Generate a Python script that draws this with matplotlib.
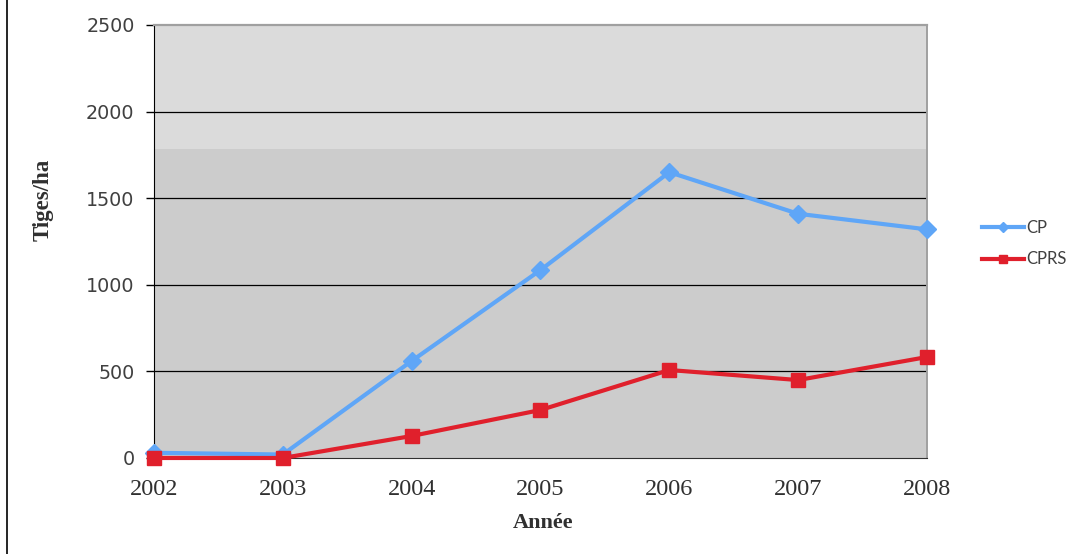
import matplotlib
matplotlib.use("Agg")
import matplotlib.pyplot as plt
from matplotlib.lines import Line2D

years = [2002, 2003, 2004, 2005, 2006, 2007, 2008]
cp = [30, 20, 560, 1085, 1650, 1410, 1320]
cprs = [0, 0, 127, 277, 508, 450, 583]

fig = plt.figure(figsize=(10.79, 5.54), dpi=100)
ax = fig.add_axes([0.1427, 0.1733, 0.8591 - 0.1427, 0.9549 - 0.1733])

# two-tone plot background as in the scanned original
ax.set_facecolor("#cccccc")
ax.axhspan(1785, 2500, color="#dbdbdb", zorder=0, lw=0)

for v in [500, 1000, 1500, 2000]:
    ax.axhline(v, color="black", lw=0.9, zorder=1)

ax.plot(years, cp, color="#5fa6f7", lw=3, marker="D", ms=9,
        label="CP", zorder=3, clip_on=False)
ax.plot(years, cprs, color="#e0202c", lw=3, marker="s", ms=10.5,
        label="CPRS", zorder=4, clip_on=False)

ax.set_xlim(2002, 2008)
ax.set_ylim(0, 2500)
ax.set_yticks([0, 500, 1000, 1500, 2000, 2500])
ax.set_xticks(years)
ax.set_xticklabels([str(y) for y in years], fontfamily="Liberation Serif",
                   fontsize=17.5, color="#303030")
ax.set_yticklabels(["0", "500", "1000", "1500", "2000", "2500"],
                   fontfamily="DejaVu Sans", fontsize=13.8, color="#404040")
ax.tick_params(axis="y", length=6, width=1, pad=8, color="black")
ax.tick_params(axis="x", length=0, pad=15)

ax.spines["left"].set_color("black")
ax.spines["bottom"].set_color("#303030")
ax.spines["top"].set_color("#a0a0a0")
ax.spines["right"].set_color("#a0a0a0")
ax.spines["top"].set_linewidth(1.6)
ax.spines["right"].set_linewidth(1.4)

fig.text(0.5032, 0.056, "Année", fontfamily="Liberation Serif",
         fontweight="bold", fontsize=16, color="#303030", ha="center", va="center")
fig.text(0.040, 0.639, "Tiges/ha", fontfamily="Liberation Serif",
         fontweight="bold", fontsize=16.5, color="#303030", rotation=90,
         ha="center", va="center")

fig.legend(loc="center left", bbox_to_anchor=(0.910, 0.5605), frameon=False,
           borderpad=0, borderaxespad=0,
           prop={"family": "Lato", "size": 12}, handlelength=2.5,
           handletextpad=0.18, labelspacing=0.95, markerscale=0.6,
           labelcolor="#404040")

# left page border
fig.add_artist(Line2D([0.0065, 0.0065], [0, 1], color="black", lw=1.2))

fig.savefig("out.png", dpi=100)
